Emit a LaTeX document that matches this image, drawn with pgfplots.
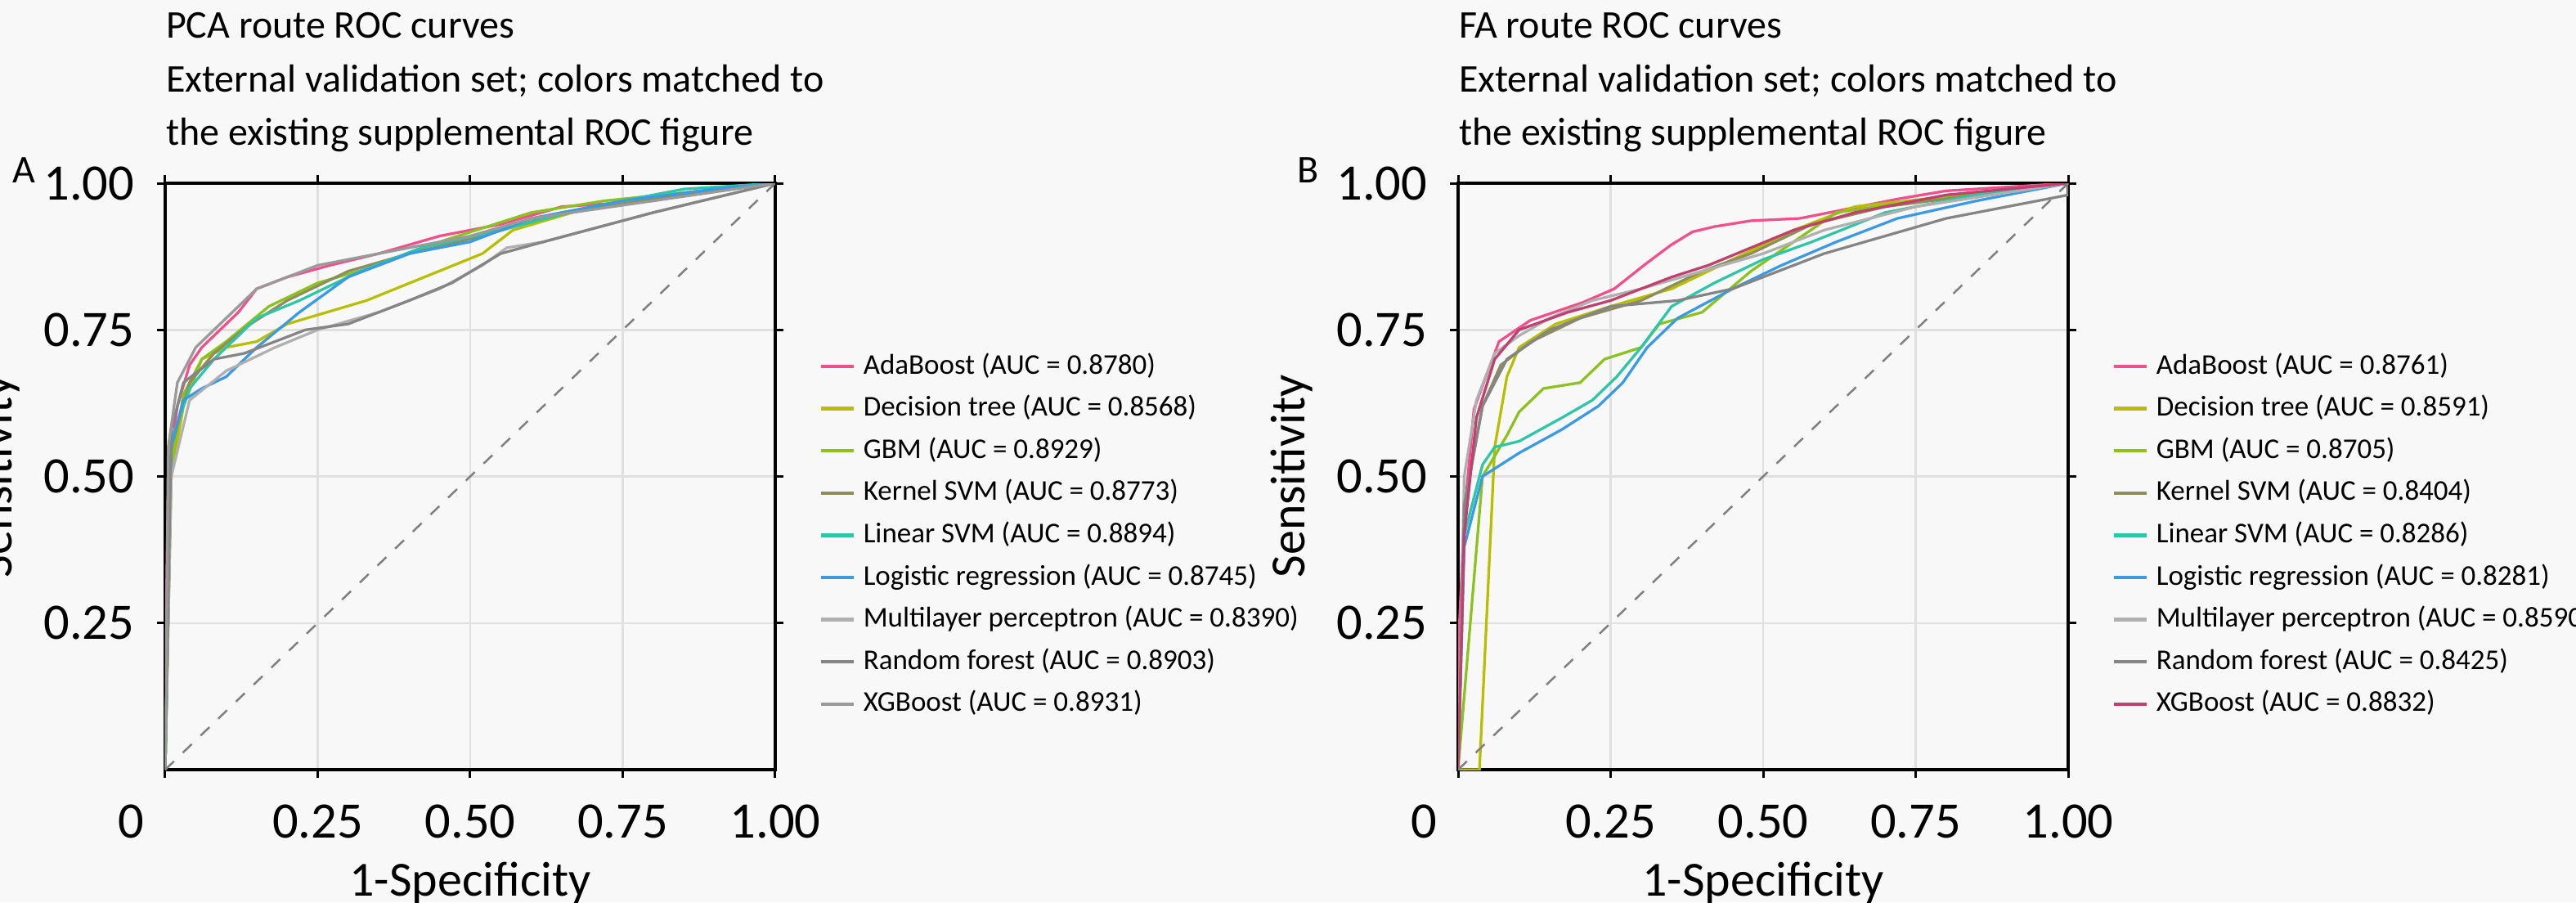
\documentclass[border=0pt]{standalone}
\usepackage{fontspec}
\setmainfont{Carlito}
\usepackage{pgfplots}
\pgfplotsset{compat=1.18}
\definecolor{bg}{HTML}{F8F8F8}
\definecolor{cAda}{HTML}{F0508C}
\definecolor{cDT}{HTML}{B8BE00}
\definecolor{cGBM}{HTML}{8CC21E}
\definecolor{cKSVM}{HTML}{8E8E5A}
\definecolor{cLSVM}{HTML}{2EC6A6}
\definecolor{cLR}{HTML}{3A9AE4}
\definecolor{cMLP}{HTML}{B0B0B0}
\definecolor{cRF}{HTML}{858585}
\definecolor{cXGB}{HTML}{9A9A9A}
\pgfplotsset{
  rocax/.style={
    scale only axis, width=149.2pt, height=143.4pt,
    xmin=0,xmax=1,ymin=0,ymax=1, clip mode=individual,
    xtick={0,0.25,0.5,0.75,1}, xticklabels={,0.25,0.50,0.75,1.00},
    ytick={0.25,0.5,0.75,1}, yticklabels={0.25,0.50,0.75,1.00},
    grid=major, grid style={line width=0.5pt,draw=black!12},
    axis line style={line width=0.8pt},
    tick align=outside, major tick length=2pt, tick style={black,line width=0.6pt},
    ticklabel style={font=\fontsize{12.5}{14}\selectfont},
    /pgf/number format/assume math mode=true,
    xticklabel style={yshift=-3pt}, yticklabel style={xshift=-2pt},
    xlabel={1-Specificity}, ylabel={Sensitivity},
    label style={font=\fontsize{12}{14}\selectfont},
    xlabel style={yshift=1pt}, ylabel style={yshift=-1pt},
    axis background/.style={fill=bg},
    legend style={at={(1.05,0.74)},anchor=north west,draw=none,fill=none,
      font=\fontsize{7}{7.6}\selectfont, row sep=-0.3pt,
      /tikz/every even column/.append style={column sep=2pt}},
    legend cell align=left,
    legend image code/.code={\draw[#1,line width=0.9pt] (0pt,0pt) -- (8pt,0pt);},
    every axis plot/.append style={line width=0.65pt, no marks},
  }
}
\begin{document}
\begin{tikzpicture}[x=1pt,y=1pt]
\fill[bg] (0,0) rectangle (630,220.6);
\useasboundingbox (0,0) rectangle (630,220.6);
\begin{scope}[font=\fontsize{9.6}{11}\selectfont]
\node[anchor=base west,inner sep=0] at (40.4,211.4) {PCA route ROC curves};
\node[anchor=base west,inner sep=0] at (40.4,198.2) {External validation set; colors matched to};
\node[anchor=base west,inner sep=0] at (40.4,185.2) {the existing supplemental ROC figure};
\node[anchor=base west,inner sep=0] at (2.8,176) {A};
\node[anchor=base west,inner sep=0] at (356.6,211.4) {FA route ROC curves};
\node[anchor=base west,inner sep=0] at (356.6,198.2) {External validation set; colors matched to};
\node[anchor=base west,inner sep=0] at (356.6,185.2) {the existing supplemental ROC figure};
\node[anchor=base west,inner sep=0] at (317,176) {B};
\end{scope}
\begin{axis}[rocax, at={(40.4pt,32.4pt)}, anchor=south west]
\addplot[cAda] coordinates {(0,0)(0,0.15)(0.005,0.5)(0.02,0.62)(0.04,0.69)(0.06,0.72)(0.09,0.75)(0.12,0.78)(0.15,0.82)(0.2,0.84)(0.27,0.86)(0.35,0.88)(0.45,0.91)(0.55,0.93)(0.65,0.96)(0.8,0.97)(0.9,0.99)(1,1)};
\addlegendentry{AdaBoost (AUC = 0.8780)}
\addplot[cDT] coordinates {(0,0)(0.01,0.5)(0.03,0.62)(0.06,0.7)(0.1,0.72)(0.15,0.73)(0.2,0.76)(0.33,0.8)(0.52,0.88)(0.57,0.92)(0.7,0.96)(1,1)};
\addlegendentry{Decision tree (AUC = 0.8568)}
\addplot[cGBM] coordinates {(0,0)(0.01,0.52)(0.03,0.64)(0.06,0.7)(0.1,0.73)(0.17,0.79)(0.25,0.83)(0.35,0.86)(0.45,0.9)(0.6,0.95)(0.72,0.97)(1,1)};
\addlegendentry{GBM (AUC = 0.8929)}
\addplot[cKSVM] coordinates {(0,0)(0.01,0.55)(0.04,0.66)(0.08,0.71)(0.14,0.76)(0.2,0.8)(0.3,0.85)(0.4,0.88)(0.52,0.91)(0.65,0.95)(0.85,0.98)(1,1)};
\addlegendentry{Kernel SVM (AUC = 0.8773)}
\addplot[cLSVM] coordinates {(0,0)(0.01,0.56)(0.04,0.65)(0.08,0.7)(0.15,0.77)(0.22,0.8)(0.32,0.85)(0.42,0.89)(0.55,0.92)(0.7,0.96)(0.85,0.99)(1,1)};
\addlegendentry{Linear SVM (AUC = 0.8894)}
\addplot[cLR] coordinates {(0,0)(0.01,0.55)(0.03,0.63)(0.06,0.65)(0.1,0.67)(0.15,0.72)(0.22,0.78)(0.3,0.84)(0.4,0.88)(0.5,0.9)(0.6,0.94)(0.75,0.97)(0.9,0.99)(1,1)};
\addlegendentry{Logistic regression (AUC = 0.8745)}
\addplot[cMLP] coordinates {(0,0)(0.01,0.5)(0.04,0.63)(0.1,0.68)(0.18,0.72)(0.25,0.75)(0.35,0.78)(0.45,0.82)(0.52,0.86)(0.56,0.89)(0.62,0.9)(0.8,0.95)(1,1)};
\addlegendentry{Multilayer perceptron (AUC = 0.8390)}
\addplot[cRF] coordinates {(0,0)(0.01,0.58)(0.03,0.66)(0.08,0.7)(0.13,0.71)(0.18,0.73)(0.23,0.75)(0.3,0.76)(0.4,0.8)(0.47,0.83)(0.55,0.88)(0.62,0.9)(0.8,0.95)(1,1)};
\addlegendentry{Random forest (AUC = 0.8903)}
\addplot[cXGB] coordinates {(0,0)(0.005,0.55)(0.02,0.66)(0.05,0.72)(0.1,0.77)(0.15,0.82)(0.2,0.84)(0.25,0.86)(0.3,0.87)(0.4,0.89)(0.5,0.91)(0.6,0.94)(0.8,0.97)(1,1)};
\addlegendentry{XGBoost (AUC = 0.8931)}
\addplot[gray, dashed, line width=0.5pt, forget plot] coordinates {(0,0)(1,1)};
\node[font=\fontsize{12.5}{14}\selectfont,anchor=north] at (axis cs:0,0) [xshift=-8.4pt,yshift=-5pt] {0};
\end{axis}
\begin{axis}[rocax, at={(356.6pt,32.4pt)}, anchor=south west]
\addplot[cAda] coordinates {(0,0)(0,0.2)(0.01,0.43)(0.026,0.615)(0.067,0.73)(0.118,0.766)(0.205,0.797)(0.256,0.82)(0.307,0.862)(0.348,0.894)(0.384,0.917)(0.42,0.926)(0.48,0.936)(0.56,0.94)(0.72,0.973)(0.8,0.987)(1,1)};
\addlegendentry{AdaBoost (AUC = 0.8761)}
\addplot[cDT] coordinates {(0,0)(0.035,0)(0.06,0.55)(0.08,0.67)(0.1,0.72)(0.16,0.76)(0.25,0.79)(0.35,0.82)(0.45,0.87)(0.55,0.92)(0.65,0.96)(1,1)};
\addlegendentry{Decision tree (AUC = 0.8591)}
\addplot[cGBM] coordinates {(0,0)(0.04,0.5)(0.08,0.57)(0.1,0.61)(0.14,0.65)(0.2,0.66)(0.24,0.7)(0.3,0.72)(0.33,0.76)(0.4,0.78)(0.48,0.85)(0.55,0.9)(0.62,0.95)(0.75,0.97)(1,1)};
\addlegendentry{GBM (AUC = 0.8705)}
\addplot[cKSVM] coordinates {(0,0)(0.01,0.45)(0.04,0.62)(0.07,0.69)(0.12,0.73)(0.2,0.77)(0.3,0.8)(0.4,0.85)(0.48,0.88)(0.58,0.93)(0.7,0.96)(1,1)};
\addlegendentry{Kernel SVM (AUC = 0.8404)}
\addplot[cLSVM] coordinates {(0,0)(0.01,0.4)(0.04,0.52)(0.06,0.55)(0.1,0.56)(0.17,0.6)(0.22,0.63)(0.26,0.67)(0.3,0.72)(0.35,0.79)(0.42,0.83)(0.5,0.87)(0.58,0.9)(0.7,0.95)(0.85,0.98)(1,1)};
\addlegendentry{Linear SVM (AUC = 0.8286)}
\addplot[cLR] coordinates {(0,0)(0.01,0.38)(0.04,0.5)(0.1,0.54)(0.17,0.58)(0.23,0.62)(0.27,0.66)(0.31,0.72)(0.36,0.77)(0.45,0.82)(0.53,0.86)(0.62,0.9)(0.72,0.94)(0.85,0.97)(1,1)};
\addlegendentry{Logistic regression (AUC = 0.8281)}
\addplot[cMLP] coordinates {(0,0)(0.01,0.5)(0.03,0.63)(0.06,0.71)(0.1,0.74)(0.15,0.77)(0.22,0.8)(0.3,0.82)(0.4,0.85)(0.5,0.88)(0.6,0.92)(0.75,0.96)(1,1)};
\addlegendentry{Multilayer perceptron (AUC = 0.8590)}
\addplot[cRF] coordinates {(0,0)(0.01,0.45)(0.04,0.62)(0.08,0.7)(0.15,0.75)(0.25,0.79)(0.36,0.8)(0.45,0.82)(0.5,0.84)(0.6,0.88)(0.7,0.91)(0.8,0.94)(0.9,0.96)(1,0.98)(1,1)};
\addlegendentry{Random forest (AUC = 0.8425)}
\addplot[cAda!80!black] coordinates {(0,0)(0.01,0.4)(0.03,0.6)(0.06,0.7)(0.1,0.75)(0.18,0.78)(0.25,0.8)(0.35,0.84)(0.41,0.86)(0.48,0.89)(0.55,0.92)(0.65,0.95)(0.8,0.98)(1,1)};
\addlegendentry{XGBoost (AUC = 0.8832)}
\addplot[gray, dashed, line width=0.5pt, forget plot] coordinates {(0,0)(1,1)};
\node[font=\fontsize{12.5}{14}\selectfont,anchor=north] at (axis cs:0,0) [xshift=-8.4pt,yshift=-5pt] {0};
\end{axis}
\end{tikzpicture}
\end{document}
